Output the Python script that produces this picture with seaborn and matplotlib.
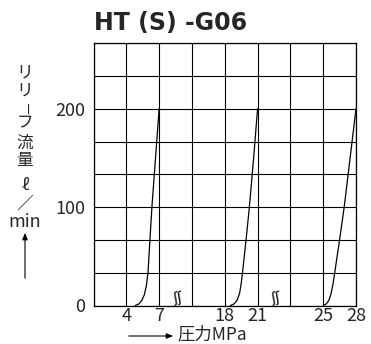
import matplotlib
matplotlib.use("Agg")
import matplotlib.pyplot as plt
import seaborn as sns
import numpy as np

# grid-unit positions along the broken pressure axis (one cell per unit)
x_tick_pos = [0, 1, 2, 3, 4, 5, 6, 7, 8]
x_tick_labels = ["", "4", "7", "", "18", "21", "", "25", "28"]
y_tick_pos = [0, 33.33, 66.67, 100, 133.33, 166.67, 200, 233.33, 266.67]
y_tick_labels = ["0", "", "", "100", "", "", "200", "", ""]

# relief flow curves (x in grid units, y in L/min)
curve1_x = [1.27, 1.38, 1.47, 1.55, 1.61, 1.66, 1.72, 1.78, 1.89, 2.0]
curve1_y = [0, 1.5, 5, 11, 20, 33, 67, 100, 150, 200]
curve2_x = [4.17, 4.28, 4.37, 4.45, 4.50, 4.54, 4.65, 4.75, 4.88, 5.0]
curve2_y = [0, 1.5, 5, 12, 22, 33, 67, 100, 150, 200]
curve3_x = [7.0, 7.09, 7.17, 7.24, 7.30, 7.35, 7.50, 7.64, 7.82, 8.0]
curve3_y = [0, 1.5, 5, 12, 22, 33, 67, 100, 150, 200]

title = "HT (S) -G06"
ylabel_chars = ["リ", "リ", "ー", "フ", "流", "量", "ℓ", "／", "min"]
ylabel_y_px = [73, 91, 109, 123, 143, 161, 185, 204, 222]
xlabel = "圧力MPa"

sns.set_style("white")
plt.rcParams["font.family"] = ["Noto Sans CJK JP", "DejaVu Sans"]

W, H = 371, 344
fig = plt.figure(figsize=(W / 100, H / 100), dpi=100)
ax = fig.add_axes([93.5 / W, 1 - 305.5 / H, (356 - 93.5) / W, (305.5 - 43.3) / H])

for cx, cy in [(curve1_x, curve1_y), (curve2_x, curve2_y), (curve3_x, curve3_y)]:
    sns.lineplot(x=cx, y=cy, ax=ax, color="black", lw=0.9, sort=False, estimator=None)

ax.set_xlim(0, 8)
ax.set_ylim(0, 266.67)
ax.set_xticks(x_tick_pos)
ax.set_xticklabels(x_tick_labels, fontsize=13)
ax.set_yticks(y_tick_pos)
ax.set_yticklabels(y_tick_labels, fontsize=13)
ax.tick_params(length=0)
ax.tick_params(axis="y", pad=6)
ax.tick_params(axis="x", pad=1)
ax.grid(True, color="black", lw=0.8)
for s in ax.spines.values():
    s.set_color("black")
    s.set_linewidth(0.9)

# break marks on the pressure axis
for bx in [2.55, 5.55]:
    ax.text(bx, 7, "ʃʃ", fontsize=10, ha="center", va="center", color="black",
            family=["DejaVu Sans"], rotation=10)

fig.text(171 / W, 1 - 23 / H, title, fontsize=17, fontweight="bold",
         ha="center", va="center", family=["DejaVu Sans"])

for ch, py in zip(ylabel_chars, ylabel_y_px):
    rot = -90 if ch == "ー" else 0
    fs = 13 if ch == "min" else (9 if ch == "ー" else 12)
    fig.text(25 / W, 1 - py / H, ch, fontsize=fs, ha="center", va="center", rotation=rot)

# up arrow under the y label
fig.add_artist(matplotlib.patches.FancyArrowPatch(
    (25 / W, 1 - 281 / H), (25 / W, 1 - 230 / H), transform=fig.transFigure,
    arrowstyle="-|>,head_length=4,head_width=1.6", lw=0.8, color="black"))
# right arrow before the x label
fig.add_artist(matplotlib.patches.FancyArrowPatch(
    (126 / W, 1 - 336 / H), (176 / W, 1 - 336 / H), transform=fig.transFigure,
    arrowstyle="-|>,head_length=4,head_width=1.6", lw=0.8, color="black"))
fig.text(177 / W, 1 - 334 / H, xlabel, fontsize=12.5, ha="left", va="center")

fig.savefig("out.png", dpi=100)
